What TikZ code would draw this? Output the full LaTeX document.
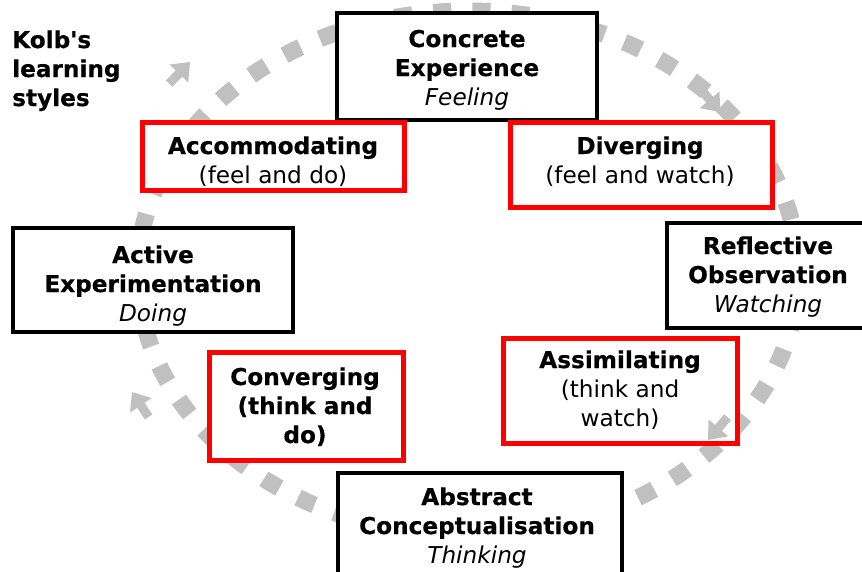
\documentclass[tikz,border=0pt]{standalone}
\usepackage{fontspec}
\setmainfont{DejaVu Sans}[Ligatures=TeXOff, BoldFeatures={FakeBold=0.5}]
\usetikzlibrary{calc}
\definecolor{trackgray}{RGB}{192,192,192}
\definecolor{boxred}{RGB}{255,0,0}
\newcommand{\kolbarrow}[2]{%
  \fill[trackgray] (#1) -- ($($(#1)!16pt!(#2)$)!13pt!90:(#1)$)
    -- ($($(#1)!16pt!(#2)$)!4.5pt!90:(#1)$)
    -- ($($(#1)!30pt!(#2)$)!4.5pt!90:(#1)$)
    -- ($($(#1)!30pt!(#2)$)!4.5pt!-90:(#1)$)
    -- ($($(#1)!16pt!(#2)$)!4.5pt!-90:(#1)$)
    -- ($($(#1)!16pt!(#2)$)!13pt!-90:(#1)$) -- cycle;}
\tikzset{
  blkbox/.style={draw=black, line width=4.5pt, fill=white, inner sep=0pt},
  redbox/.style={draw=boxred, line width=5pt, fill=white, inner sep=0pt},
  txt/.style={anchor=base, align=center, inner sep=0pt, font=\fontsize{23.2}{29}\selectfont},
  track/.style={draw=trackgray, line width=17pt, dash pattern=on 18pt off 21pt}
}
\begin{document}
\begin{tikzpicture}[x=1pt,y=-1pt]
\useasboundingbox (0,0) rectangle (862,571);
\fill[white] (0,0) rectangle (862,571);
% dashed cycle track
\coordinate (ctr) at (468,273);
\draw[track] (ctr) ellipse [x radius=330, y radius=262];
% black boxes
\node[blkbox, minimum width=260pt, minimum height=107pt] (ce) at (467,66.5) {};
\node[blkbox, minimum width=280pt, minimum height=104pt] (ae) at (153,280) {};
\node[blkbox, minimum width=202pt, minimum height=105pt] (ro) at (768,275.5) {};
\node[blkbox, minimum width=284pt, minimum height=107pt] (ac) at (480,526.5) {};
% red boxes
\node[redbox, minimum width=262pt, minimum height=68pt] (acc) at (273,156) {};
\node[redbox, minimum width=262pt, minimum height=85pt] (div) at (641,164.5) {};
\node[redbox, minimum width=194pt, minimum height=108pt] (con) at (306,406) {};
\node[redbox, minimum width=234pt, minimum height=105pt] (asm) at (620,390.5) {};
% texts (anchor base = baseline of the last line)
\node[txt, anchor=base west, align=left] (title) at (12,106) {\textbf{Kolb's}\\\textbf{learning}\\\textbf{styles}};
\node[txt] (ce-t) at (467,105) {\textbf{Concrete}\\\textbf{Experience}\\\textit{Feeling}};
\node[txt] (acc-t) at (273,183) {\textbf{Accommodating}\\(feel and do)};
\node[txt] (div-t) at (640,183) {\textbf{Diverging}\\(feel and watch)};
\node[txt] (ae-t) at (153,321) {\textbf{Active}\\\textbf{Experimentation}\\\textit{Doing}};
\node[txt] (ro-t) at (768,312) {\textbf{Reflective}\\\textbf{Observation}\\\textit{Watching}};
\node[txt] (con-t) at (305,443) {\textbf{Converging}\\\textbf{(think and}\\\textbf{do)}};
\node[txt] (asm-t) at (620,426) {\textbf{Assimilating}\\(think and\\watch)};
\node[txt] (ac-t) at (477,563) {\textbf{Abstract}\\\textbf{Conceptualisation}\\\textit{Thinking}};
% arrow heads of the cycle
\coordinate (a1t) at (190,62);  \coordinate (a1s) at (163,90);
\coordinate (a2t) at (720,112); \coordinate (a2s) at (693,80);
\coordinate (a3t) at (708,440); \coordinate (a3s) at (732,412);
\coordinate (a4t) at (132,392); \coordinate (a4s) at (152,422);
\kolbarrow{a1t}{a1s}
\kolbarrow{a2t}{a2s}
\kolbarrow{a3t}{a3s}
\kolbarrow{a4t}{a4s}
\end{tikzpicture}
\end{document}
